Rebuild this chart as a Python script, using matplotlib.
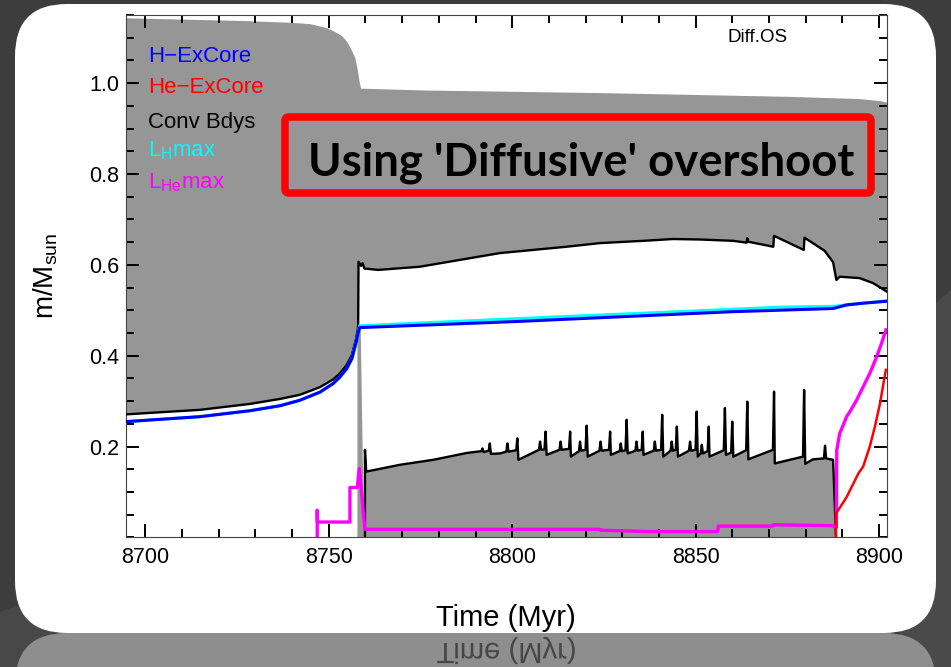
import matplotlib
matplotlib.use("Agg")
import matplotlib.pyplot as plt
from matplotlib.patches import FancyBboxPatch, PathPatch, Polygon
from matplotlib.textpath import TextPath
from matplotlib.font_manager import FontProperties
from matplotlib.transforms import Affine2D
from matplotlib.ticker import MultipleLocator

plt.rcParams['font.family'] = ['Liberation Sans', 'DejaVu Sans']
plt.rcParams['mathtext.fontset'] = 'custom'
plt.rcParams['mathtext.rm'] = 'Liberation Sans'
plt.rcParams['mathtext.it'] = 'Liberation Sans:italic'

GRAY = '#969696'

# stellar surface (top of the outer convective envelope)
surface_t = [8694.7, 8710.0, 8726.5, 8739.7, 8744.9, 8749.6, 8751.7, 8753.7,
             8755.0, 8756.2, 8757.2, 8757.9, 8758.3, 8758.8, 8776.0, 8825.7,
             8875.3, 8895.0, 8900.9, 8902.2]
surface_m = [1.143, 1.140, 1.137, 1.133, 1.130, 1.121, 1.113, 1.103,
             1.091, 1.073, 1.056, 1.029, 1.007, 0.988, 0.984, 0.978,
             0.970, 0.965, 0.960, 0.957]

# base of the convective envelope
env_t = [8694.7, 8714.9, 8728.5, 8736.7, 8742.1, 8747.6, 8751.2, 8753.0,
         8754.9, 8756.3, 8757.4, 8757.9, 8758.0, 8758.1, 8758.8, 8759.2,
         8759.7, 8763.5, 8774.8, 8796.6, 8814.8, 8823.9, 8835.7, 8843.9,
         8851.0, 8860.3, 8863.9, 8864.1, 8864.4, 8871.2, 8871.4, 8879.5,
         8879.7, 8885.2, 8887.5, 8888.4, 8889.3, 8894.7, 8898.4, 8902.2]
env_m = [0.271, 0.281, 0.294, 0.305, 0.314, 0.331, 0.348, 0.361,
         0.380, 0.402, 0.436, 0.458, 0.468, 0.607, 0.598, 0.604,
         0.592, 0.589, 0.596, 0.626, 0.640, 0.648, 0.653, 0.657,
         0.656, 0.653, 0.649, 0.659, 0.651, 0.640, 0.664, 0.633,
         0.660, 0.631, 0.606, 0.567, 0.574, 0.571, 0.560, 0.541]

# convective core during core helium burning (breathing pulses)
core_t = [8759.85, 8759.85, 8760.2, 8769.4, 8778.5, 8787.6, 8791.6, 8791.9,
          8792.2, 8793.6, 8793.9, 8794.2, 8796.7, 8798.4, 8798.7, 8799.0,
          8801.1, 8801.4, 8801.7, 8807.3, 8807.6, 8807.9, 8808.8, 8809.1,
          8809.4, 8812.9, 8813.2, 8813.5, 8815.5, 8815.8, 8816.0, 8818.2,
          8818.5, 8818.8, 8820.0, 8820.3, 8820.6, 8823.8, 8824.1, 8824.4,
          8826.4, 8826.7, 8826.9, 8829.3, 8829.6, 8829.9, 8830.9, 8831.2,
          8831.5, 8833.6, 8833.9, 8834.2, 8835.3, 8835.6, 8835.8, 8838.6,
          8838.9, 8839.2, 8840.6, 8840.9, 8841.2, 8843.2, 8843.5, 8843.8,
          8844.6, 8844.9, 8845.2, 8848.2, 8848.5, 8848.8, 8850.0, 8850.3,
          8850.6, 8851.4, 8851.7, 8852.0, 8853.3, 8853.6, 8853.8, 8857.7,
          8858.0, 8858.3, 8859.7, 8860.0, 8860.3, 8863.8, 8864.1, 8864.4,
          8871.1, 8871.4, 8871.6, 8879.3, 8879.6, 8879.9, 8882.0, 8885.0,
          8885.3, 8885.6, 8887.5, 8888.3]
core_m = [0.000, 0.193, 0.145, 0.160, 0.171, 0.186, 0.190, 0.196,
          0.188, 0.191, 0.207, 0.184, 0.185, 0.189, 0.207, 0.189,
          0.192, 0.218, 0.171, 0.193, 0.211, 0.193, 0.194, 0.233,
          0.182, 0.193, 0.211, 0.193, 0.195, 0.233, 0.178, 0.190,
          0.211, 0.191, 0.193, 0.246, 0.178, 0.191, 0.211, 0.191,
          0.193, 0.233, 0.182, 0.190, 0.207, 0.190, 0.192, 0.259,
          0.185, 0.191, 0.211, 0.191, 0.193, 0.233, 0.182, 0.191,
          0.211, 0.191, 0.193, 0.270, 0.178, 0.191, 0.211, 0.191,
          0.193, 0.244, 0.178, 0.191, 0.211, 0.191, 0.193, 0.277,
          0.178, 0.185, 0.204, 0.185, 0.190, 0.244, 0.178, 0.192,
          0.285, 0.182, 0.187, 0.255, 0.178, 0.192, 0.299, 0.172,
          0.193, 0.321, 0.163, 0.178, 0.325, 0.162, 0.172, 0.174,
          0.202, 0.174, 0.171, 0.000]

# short-lived convective tongue at the helium flash
flash_t = [8757.8, 8758.7, 8759.6, 8757.8]
flash_m = [0.462, 0.462, 0.000, 0.000]

# H-exhausted core
hcore_t = [8694.7, 8714.9, 8728.5, 8736.7, 8742.1, 8747.6, 8751.2, 8753.0,
           8754.9, 8756.3, 8757.4, 8757.9, 8758.4, 8800.0, 8830.0, 8860.0,
           8887.5, 8891.2, 8896.0, 8902.2]
hcore_m = [0.255, 0.266, 0.279, 0.290, 0.302, 0.320, 0.339, 0.353,
           0.372, 0.394, 0.428, 0.447, 0.462, 0.475, 0.486, 0.497,
           0.504, 0.512, 0.516, 0.520]

# location of maximum H-burning luminosity
lh_t = [8694.7, 8714.9, 8728.5, 8736.7, 8742.1, 8747.6, 8751.2, 8753.0,
        8754.9, 8756.3, 8757.4, 8757.9, 8758.4, 8802.0, 8845.0, 8873.0,
        8888.0, 8891.2, 8902.2]
lh_m = [0.255, 0.266, 0.279, 0.290, 0.302, 0.320, 0.339, 0.353,
        0.372, 0.394, 0.428, 0.447, 0.466, 0.482, 0.497, 0.507,
        0.509, 0.512, 0.521]

# location of maximum He-burning luminosity
lhe_t = [8746.84, 8746.84, 8746.9, 8755.76, 8755.76, 8757.76, 8758.3, 8759.85,
         8823.9, 8824.0, 8836.7, 8856.0, 8856.2, 8871.0, 8871.2, 8887.4,
         8888.4, 8888.5, 8889.3, 8891.2, 8892.1, 8893.9, 8894.8, 8897.5,
         8899.4, 8900.7, 8901.9]
lhe_m = [0.003, 0.060, 0.034, 0.034, 0.110, 0.110, 0.152, 0.018,
         0.018, 0.016, 0.013, 0.013, 0.025, 0.025, 0.028, 0.026,
         0.022, 0.192, 0.229, 0.266, 0.277, 0.302, 0.317, 0.361,
         0.398, 0.427, 0.457]

# He-exhausted core
hecore_t = [8888.3, 8888.3, 8888.9, 8891.2, 8894.4, 8895.7, 8897.5, 8898.9,
            8900.3, 8901.4, 8901.9]
hecore_m = [0.000, 0.053, 0.060, 0.089, 0.141, 0.156, 0.200, 0.244,
            0.295, 0.347, 0.369]

legend_entries = [
    ('H\u2212ExCore', '#0000ff'),
    ('He\u2212ExCore', '#ff0000'),
    ('Conv Bdys', 'black'),
    (r'$\mathregular{L_{H}max}$', '#00ffff'),
    (r'$\mathregular{L_{He}max}$', '#ff00ff'),
]

W, H = 951, 667


def draw_backdrop(fig):
    """Slide-style rounded panel with its reflection underneath."""
    bg = fig.add_axes([0, 0, 1, 1], zorder=0)
    bg.set_xlim(0, W)
    bg.set_ylim(H, 0)
    bg.axis('off')
    bg.add_patch(Polygon([(951, 290), (900, 335), (900, 667), (951, 667)],
                         closed=True, fc='#4a4a4a', ec='none'))
    bg.add_patch(Polygon([(0, 612), (60, 590), (60, 667), (0, 667)],
                         closed=True, fc='#484848', ec='none'))
    bg.add_patch(FancyBboxPatch((15, 4), 921, 629,
                                boxstyle='round,pad=0,rounding_size=52',
                                fc='white', ec='none'))
    bg.add_patch(FancyBboxPatch((15, 633), 921, 629,
                                boxstyle='round,pad=0,rounding_size=52',
                                fc='#8e8e8e', ec='none'))
    # mirrored x-label in the reflection (y axis runs downwards here)
    tp = TextPath((0, 0), 'Time (Myr)', size=29.2,
                  prop=FontProperties(family='Liberation Sans'))
    ext = tp.get_extents()
    tr = Affine2D().translate(506 - ext.x0 - ext.width / 2, 643) + bg.transData
    bg.add_patch(PathPatch(tp, transform=tr, fc='#3a3a3a', ec='none', alpha=0.85))


def draw_chart(fig):
    ax = fig.add_axes([0.1325, 0.1942, 0.8002, 0.7832], zorder=1)
    ax.set_facecolor('white')

    ax.fill(list(surface_t) + env_t[::-1], list(surface_m) + env_m[::-1],
            color=GRAY, lw=0, zorder=1)
    ax.fill(core_t, core_m, color=GRAY, lw=0, zorder=1)
    ax.fill(flash_t, flash_m, color=GRAY, lw=0, zorder=1)

    ax.plot(env_t, env_m, color='black', lw=1.7, zorder=3)
    ax.plot(core_t, core_m, color='black', lw=1.7, zorder=3)
    ax.plot(lh_t, lh_m, color='#00ffff', lw=2.2, zorder=4)
    ax.plot(hcore_t, hcore_m, color='#0000ff', lw=2.2, zorder=5)
    ax.plot(lhe_t, lhe_m, color='#ff00ff', lw=2.4, zorder=6)
    ax.plot(hecore_t, hecore_m, color='#ff0000', lw=1.8, zorder=7)

    ax.set_xlim(8694.7, 8902.2)
    ax.set_ylim(0, 1.15)
    ax.set_xticks([8700, 8750, 8800, 8850, 8900])
    ax.set_yticks([0.2, 0.4, 0.6, 0.8, 1.0])
    ax.xaxis.set_minor_locator(MultipleLocator(10))
    ax.yaxis.set_minor_locator(MultipleLocator(0.05))
    ax.tick_params(which='both', direction='in', top=True, right=True,
                   color='black', width=1.4)
    ax.tick_params(which='major', length=9.5, labelsize=15.5)
    ax.tick_params(which='minor', length=5.5)
    ax.tick_params(axis='x', pad=7)
    ax.tick_params(axis='y', pad=5)
    for sp in ax.spines.values():
        sp.set_linewidth(0.8)
        sp.set_color('#444444')

    ax.set_xlabel('Time (Myr)', fontsize=21, va='center')
    ax.xaxis.set_label_coords(0.4993, -0.154)
    ax.set_ylabel(r'$\mathregular{m/M_{sun}}$', fontsize=20, va='center')
    ax.yaxis.set_label_coords(-0.105, 0.5)

    baselines = [0.9108, 0.8501, 0.7846, 0.7289, 0.6683]
    for (label, color), yb in zip(legend_entries, baselines):
        ax.text(0.0293, yb, label, color=color, fontsize=16, ha='left',
                va='baseline', transform=ax.transAxes, zorder=8)
    ax.text(0.7907, 0.9491, 'Diff.OS', fontsize=13.5, ha='left',
            va='baseline', transform=ax.transAxes, zorder=8)
    return ax


def draw_callout(fig):
    over = fig.add_axes([0, 0, 1, 1], zorder=3)
    over.set_xlim(0, W)
    over.set_ylim(H, 0)
    over.axis('off')
    over.add_patch(FancyBboxPatch((285, 117), 586, 76,
                                  boxstyle='round,pad=0,rounding_size=4',
                                  fc='none', ec='#ff0000', lw=5.4))
    over.text(581, 175, "Using 'Diffusive' overshoot", family='Lato',
              weight='bold', fontsize=32.8, ha='center', va='baseline')


def main():
    fig = plt.figure(figsize=(W / 100, H / 100), dpi=100, facecolor='#3d3d3d')
    draw_backdrop(fig)
    draw_chart(fig)
    draw_callout(fig)
    fig.savefig('out.png', dpi=100, facecolor=fig.get_facecolor())


if __name__ == "__main__":
    main()
